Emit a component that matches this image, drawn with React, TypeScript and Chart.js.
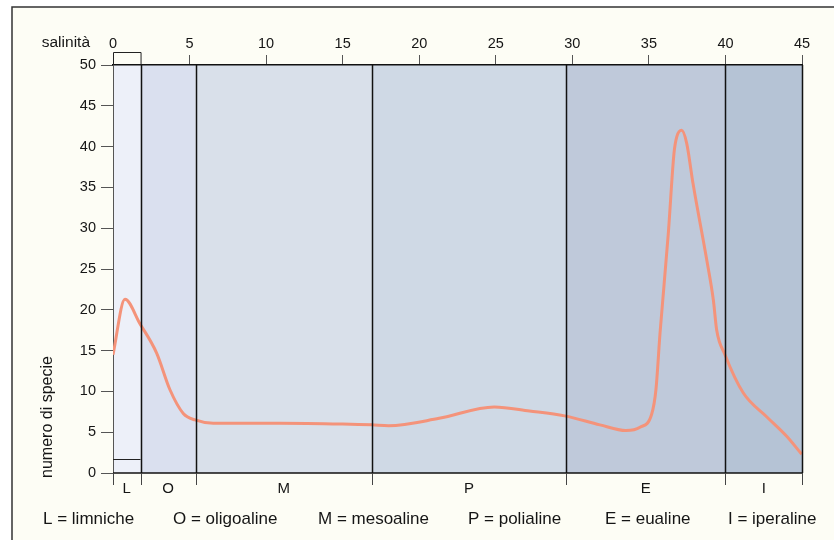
import React, { useEffect, useRef } from "react";
import { Chart, registerables } from "chart.js";

Chart.register(...registerables);

// Curve: salinity (x) vs number of species (y)
const salinity = [0, 0.78, 1.76, 2.85, 3.72, 4.59, 5.36, 6.55, 10.9, 15, 16.9, 18.0, 21.3, 24.9, 27.2, 29.5, 31.8, 33.5, 34.42, 35.18, 35.46, 35.73, 36.27, 36.64, 36.82, 37.14, 37.47, 37.88, 38.78, 39.21, 39.43, 39.97, 41.17, 42.69, 44.0, 44.98];
const species = [14.5, 21.3, 18.3, 14.7, 10.2, 7.3, 6.5, 6.1, 6.1, 6.0, 5.9, 5.8, 6.7, 8.1, 7.6, 7.0, 5.9, 5.2, 5.6, 7.2, 10.2, 17.2, 29.4, 39.2, 41.2, 42.0, 40.4, 35.5, 26.1, 21.2, 17.5, 14.5, 9.8, 6.9, 4.5, 2.3];

// Zones
const zoneStarts = [0, 1.8, 5.4, 16.9, 29.6, 40];
const zoneEnds = [1.8, 5.4, 16.9, 29.6, 40, 45];
const zoneLetters = ["L", "O", "M", "P", "E", "I"];
const zoneColors = ["#edf0f9", "#dae0ef", "#d9e0ea", "#cfd9e5", "#bfc9da", "#b5c3d5"];
const limnicheLevel = 1.7;

const legendItems = ["L = limniche", "O = oligoaline", "M = mesoaline", "P = polialine", "E = eualine", "I = iperaline"];
const legendX = [43, 173, 318, 468, 605, 728];

const FONT = "'Liberation Sans', Arial, Helvetica, sans-serif";

const decorPlugin = {
  id: "decor",
  beforeDraw(chart: any) {
    const { ctx, chartArea, scales } = chart;
    const xs = scales.x;
    ctx.save();
    ctx.fillStyle = "#ffffff";
    ctx.fillRect(0, 0, chart.width, chart.height);
    ctx.fillStyle = "#fdfdf5";
    ctx.fillRect(12, 7, chart.width, chart.height);
    ctx.strokeStyle = "#333";
    ctx.lineWidth = 1.5;
    ctx.beginPath();
    ctx.moveTo(12, chart.height + 2);
    ctx.lineTo(12, 7);
    ctx.lineTo(chart.width + 2, 7);
    ctx.stroke();
    // zones
    for (let i = 0; i < zoneStarts.length; i++) {
      const x0 = xs.getPixelForValue(zoneStarts[i]);
      const x1 = xs.getPixelForValue(zoneEnds[i]);
      ctx.fillStyle = zoneColors[i];
      ctx.fillRect(x0, chartArea.top, x1 - x0, chartArea.bottom - chartArea.top);
    }
    ctx.restore();
  },
  afterDatasetsDraw(chart: any) {
    const { ctx, chartArea, scales } = chart;
    const xs = scales.x;
    const ys = scales.y;
    ctx.save();
    // zone boundary lines
    ctx.strokeStyle = "#111";
    ctx.lineWidth = 1.5;
    for (let i = 0; i < zoneEnds.length; i++) {
      const x = Math.round(xs.getPixelForValue(zoneEnds[i])) + 0.5;
      ctx.beginPath();
      ctx.moveTo(x, chartArea.top);
      ctx.lineTo(x, chartArea.bottom);
      ctx.stroke();
    }
    // bottom line
    ctx.beginPath();
    ctx.moveTo(chartArea.left, chartArea.bottom);
    ctx.lineTo(chartArea.right, chartArea.bottom);
    ctx.stroke();
    // limniche box
    const lx0 = xs.getPixelForValue(zoneStarts[0]);
    const lx1 = xs.getPixelForValue(zoneEnds[0]);
    const ly = Math.round(ys.getPixelForValue(limnicheLevel)) + 0.5;
    ctx.lineWidth = 1;
    ctx.strokeStyle = "#222";
    ctx.beginPath();
    ctx.moveTo(lx0 + 0.5, chartArea.top);
    ctx.lineTo(lx0 + 0.5, 52.5);
    ctx.lineTo(lx1 + 0.5, 52.5);
    ctx.lineTo(lx1 + 0.5, chartArea.top);
    ctx.moveTo(lx0, ly);
    ctx.lineTo(lx1, ly);
    ctx.stroke();
    // bottom ticks
    ctx.strokeStyle = "#444";
    ctx.lineWidth = 1;
    const bounds = [zoneStarts[0], ...zoneEnds];
    for (const b of bounds) {
      const x = Math.round(xs.getPixelForValue(b)) + 0.5;
      ctx.beginPath();
      ctx.moveTo(x, chartArea.bottom);
      ctx.lineTo(x, chartArea.bottom + 12);
      ctx.stroke();
    }
    // zone letters
    ctx.fillStyle = "#151515";
    ctx.font = `15px ${FONT}`;
    ctx.textAlign = "center";
    ctx.textBaseline = "middle";
    for (let i = 0; i < zoneLetters.length; i++) {
      const c = (xs.getPixelForValue(zoneStarts[i]) + xs.getPixelForValue(zoneEnds[i])) / 2;
      ctx.fillText(zoneLetters[i], c, 489);
    }
    // legend
    ctx.font = `17px ${FONT}`;
    ctx.textAlign = "left";
    for (let i = 0; i < legendItems.length; i++) {
      ctx.fillText(legendItems[i], legendX[i], 519);
    }
    // salinità label
    ctx.font = `15.5px ${FONT}`;
    ctx.textAlign = "right";
    ctx.fillText("salinità", 90, 43);
    // y title
    ctx.translate(48, 417);
    ctx.rotate(-Math.PI / 2);
    ctx.textAlign = "center";
    ctx.font = `16px ${FONT}`;
    ctx.fillText("numero di specie", 0, 0);
    ctx.restore();
  },
};

export default function App() {
  const ref = useRef<HTMLCanvasElement>(null);
  useEffect(() => {
    if (!ref.current) return;
    const chart = new Chart(ref.current, {
      type: "line",
      data: {
        datasets: [
          {
            data: salinity.map((x, i) => ({ x, y: species[i] })),
            borderColor: "#f4937a",
            borderWidth: 3,
            pointRadius: 0,
            cubicInterpolationMode: "monotone",
            fill: false,
          },
        ],
      },
      options: {
        animation: false,
        responsive: false,
        maintainAspectRatio: false,
        devicePixelRatio: 1,
        layout: { padding: { left: 0, top: 0, right: 32, bottom: 67 } },
        plugins: { legend: { display: false }, tooltip: { enabled: false } },
        scales: {
          x: {
            type: "linear",
            position: "top",
            min: 0,
            max: 45,
            afterFit: (s: any) => {
              s.height = 65;
            },
            ticks: {
              stepSize: 5,
              maxRotation: 0,
              padding: 2,
              color: "#151515",
              font: { family: FONT, size: 14.5 },
            },
            grid: { drawOnChartArea: false, drawTicks: true, tickLength: 10, color: "#555", lineWidth: 1 },
            border: { display: true, color: "#111", width: 1.5 },
          },
          y: {
            min: 0,
            max: 50,
            afterFit: (s: any) => {
              s.width = 113;
            },
            ticks: {
              stepSize: 5,
              padding: 5,
              color: "#151515",
              font: { family: FONT, size: 14.5 },
            },
            grid: { drawOnChartArea: false, drawTicks: true, tickLength: 12, color: "#555", lineWidth: 1 },
            border: { display: true, color: "#555", width: 1 },
          },
        },
      },
      plugins: [decorPlugin],
    } as any);
    return () => chart.destroy();
  }, []);
  return (
    <div style={{ position: "fixed", left: 0, top: 0, width: 834, height: 540 }}>
      <canvas ref={ref} width={834} height={540} style={{ width: 834, height: 540, display: "block" }} />
    </div>
  );
}
